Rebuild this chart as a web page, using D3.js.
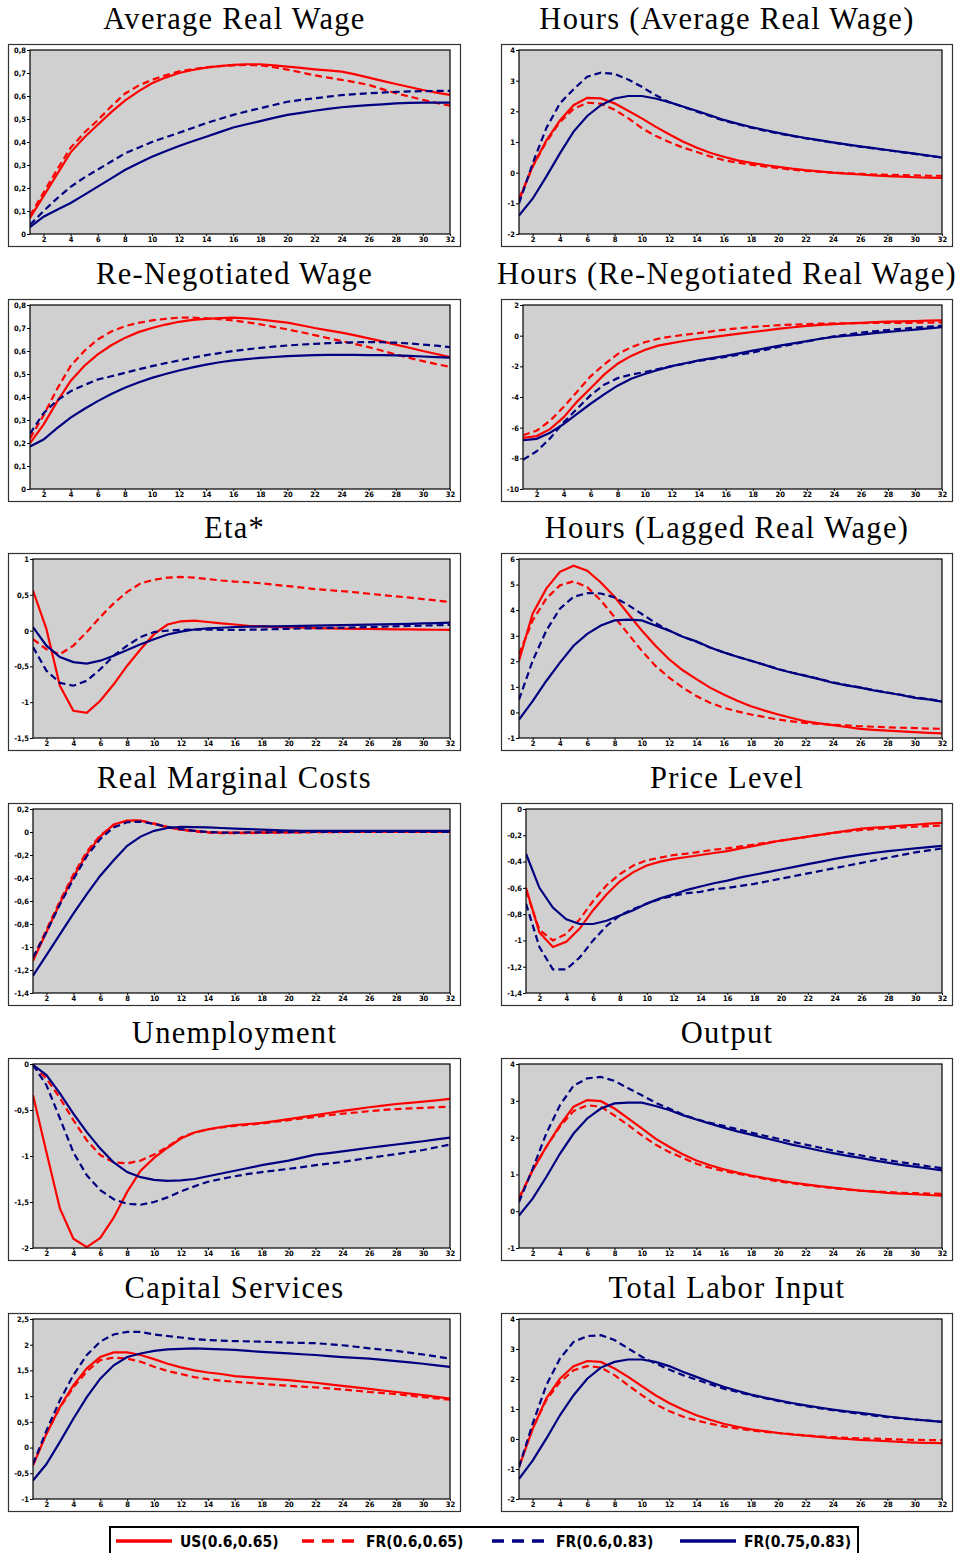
<!DOCTYPE html>
<html>
<head>
<meta charset="utf-8">
<script src="https://cdn.jsdelivr.net/npm/d3@7"></script>
<style>
  body { margin: 0; background: #fff; }
  .tick text { font-family: "DejaVu Sans Condensed", "DejaVu Sans", sans-serif; font-stretch: condensed; font-weight: bold; font-size: 7.5px; fill: #000; }
  .title { font-family: "Liberation Serif", serif; font-size: 30.5px; letter-spacing: 1.3px; fill: #000; }
  .legend text { font-family: "DejaVu Sans Condensed", "DejaVu Sans", sans-serif; font-stretch: condensed; font-weight: bold; font-size: 15.5px; }
</style>
</head>
<body>
<svg id="chart" width="959" height="1553"></svg>
<script>
// ---- data (periods 1..32) ----
var periods = d3.range(1, 33);
var seriesNames = ["US(0.6,0.65)", "FR(0.6,0.65)", "FR(0.6,0.83)", "FR(0.75,0.83)"];

var titles = ["Average Real Wage", "Hours (Average Real Wage)", "Re-Negotiated Wage",
  "Hours (Re-Negotiated Real Wage)", "Eta*", "Hours (Lagged Real Wage)", "Real Marginal Costs",
  "Price Level", "Unemployment", "Output", "Capital Services", "Total Labor Input"];

var yDomains = [[0,0.8],[-2,4],[0,0.8],[-10,2],[-1.5,1],[-1,6],[-1.4,0.2],[-1.4,0],[-2,0],[-1,4],[-1,2.5],[-2,4]];
var yStep = [0.1, 1, 0.1, 2, 0.5, 1, 0.2, 0.2, 0.5, 1, 0.5, 1];
var xTicks = d3.range(2, 33, 2);

// Average Real Wage
var avgWageUS  = [0.07,0.165,0.26,0.355,0.42,0.475,0.53,0.58,0.62,0.655,0.68,0.70,0.713,0.723,0.73,0.735,0.738,0.738,0.733,0.728,0.722,0.716,0.711,0.706,0.694,0.68,0.666,0.652,0.639,0.626,0.615,0.605];
var avgWageFR1 = [0.08,0.18,0.28,0.375,0.44,0.495,0.555,0.61,0.645,0.67,0.69,0.707,0.717,0.725,0.73,0.733,0.735,0.733,0.725,0.715,0.703,0.69,0.68,0.67,0.66,0.648,0.63,0.612,0.598,0.583,0.57,0.558];
var avgWageFR2 = [0.04,0.1,0.155,0.205,0.245,0.28,0.315,0.35,0.375,0.4,0.42,0.44,0.461,0.482,0.5,0.518,0.533,0.547,0.561,0.575,0.583,0.59,0.597,0.604,0.608,0.612,0.615,0.618,0.62,0.621,0.622,0.622];
var avgWageFR3 = [0.03,0.075,0.105,0.135,0.17,0.206,0.242,0.278,0.308,0.336,0.36,0.383,0.403,0.423,0.443,0.463,0.477,0.491,0.505,0.518,0.527,0.536,0.544,0.551,0.556,0.56,0.564,0.568,0.57,0.571,0.571,0.571];

// Hours (Average Real Wage)
var hrsAvgUS  = [-0.9,0.2,1.05,1.7,2.2,2.44,2.42,2.26,2.02,1.77,1.5,1.25,1.02,0.82,0.65,0.52,0.4,0.32,0.25,0.19,0.13,0.08,0.04,0.0,-0.03,-0.06,-0.09,-0.11,-0.13,-0.15,-0.16,-0.17];
var hrsAvgFR1 = [-0.85,0.2,1.0,1.65,2.08,2.28,2.25,2.05,1.78,1.45,1.2,1.0,0.82,0.68,0.53,0.41,0.33,0.26,0.2,0.15,0.1,0.06,0.03,0.0,-0.02,-0.04,-0.06,-0.07,-0.08,-0.09,-0.1,-0.1];
var hrsAvgFR2 = [-1.0,0.3,1.45,2.26,2.72,3.13,3.26,3.22,3.04,2.8,2.53,2.3,2.15,2.0,1.85,1.7,1.58,1.47,1.37,1.28,1.2,1.12,1.05,0.98,0.91,0.85,0.79,0.73,0.67,0.61,0.55,0.5];
var hrsAvgFR3 = [-1.4,-0.85,-0.13,0.63,1.34,1.85,2.2,2.42,2.5,2.5,2.42,2.3,2.16,2.02,1.87,1.72,1.6,1.49,1.39,1.3,1.21,1.13,1.06,0.99,0.92,0.86,0.8,0.74,0.68,0.62,0.56,0.49];

// Re-Negotiated Wage
var renegUS  = [0.2,0.28,0.38,0.47,0.535,0.585,0.625,0.657,0.682,0.7,0.715,0.727,0.735,0.74,0.743,0.745,0.742,0.737,0.73,0.723,0.712,0.7,0.69,0.68,0.668,0.655,0.642,0.628,0.614,0.6,0.587,0.573];
var renegFR1 = [0.22,0.32,0.435,0.535,0.6,0.65,0.685,0.708,0.722,0.733,0.74,0.745,0.745,0.742,0.738,0.733,0.725,0.716,0.705,0.694,0.682,0.669,0.656,0.643,0.63,0.617,0.601,0.585,0.57,0.556,0.543,0.531];
var renegFR2 = [0.24,0.33,0.385,0.425,0.452,0.476,0.49,0.505,0.52,0.534,0.547,0.559,0.571,0.582,0.591,0.6,0.607,0.614,0.619,0.624,0.628,0.631,0.634,0.636,0.638,0.639,0.638,0.636,0.633,0.628,0.623,0.617];
var renegFR3 = [0.185,0.215,0.265,0.31,0.348,0.382,0.413,0.44,0.463,0.483,0.5,0.515,0.529,0.541,0.551,0.559,0.565,0.57,0.574,0.578,0.58,0.582,0.583,0.583,0.583,0.582,0.582,0.581,0.579,0.576,0.573,0.571];

// Hours (Re-Negotiated Real Wage)
var hrsRenegUS  = [-6.66,-6.55,-6.1,-5.33,-4.3,-3.43,-2.54,-1.83,-1.32,-0.94,-0.65,-0.49,-0.33,-0.2,-0.09,0.02,0.13,0.24,0.35,0.46,0.55,0.64,0.7,0.75,0.8,0.84,0.88,0.91,0.93,0.95,0.98,1.0];
var hrsRenegFR1 = [-6.5,-6.2,-5.55,-4.66,-3.66,-2.65,-1.88,-1.2,-0.76,-0.43,-0.2,-0.05,0.06,0.17,0.29,0.4,0.49,0.57,0.63,0.69,0.72,0.75,0.78,0.8,0.81,0.82,0.83,0.84,0.84,0.84,0.85,0.86];
var hrsRenegFR2 = [-8.1,-7.55,-6.7,-5.66,-4.77,-3.88,-3.2,-2.77,-2.54,-2.37,-2.18,-1.99,-1.82,-1.65,-1.51,-1.38,-1.24,-1.1,-0.91,-0.72,-0.55,-0.38,-0.2,-0.05,0.08,0.2,0.29,0.37,0.45,0.52,0.59,0.65];
var hrsRenegFR3 = [-6.82,-6.73,-6.33,-5.77,-5.1,-4.44,-3.83,-3.26,-2.81,-2.5,-2.23,-1.99,-1.8,-1.61,-1.46,-1.32,-1.15,-0.98,-0.81,-0.65,-0.5,-0.36,-0.2,-0.08,0.0,0.07,0.17,0.25,0.32,0.4,0.48,0.55];

// Eta*
var etaUS  = [0.56,0.02,-0.77,-1.12,-1.15,-0.98,-0.75,-0.49,-0.26,-0.05,0.085,0.13,0.14,0.12,0.1,0.085,0.065,0.06,0.05,0.045,0.04,0.035,0.03,0.028,0.025,0.022,0.02,0.018,0.016,0.014,0.012,0.01];
var etaFR1 = [-0.12,-0.26,-0.33,-0.21,-0.02,0.19,0.38,0.54,0.66,0.71,0.74,0.75,0.74,0.72,0.7,0.685,0.675,0.66,0.64,0.62,0.6,0.58,0.565,0.55,0.535,0.515,0.495,0.478,0.46,0.44,0.42,0.4];
var etaFR2 = [-0.23,-0.56,-0.73,-0.77,-0.7,-0.54,-0.35,-0.21,-0.09,-0.02,0.0,0.01,0.015,0.015,0.01,0.01,0.012,0.015,0.02,0.025,0.03,0.033,0.037,0.04,0.045,0.05,0.055,0.06,0.065,0.07,0.075,0.08];
var etaFR3 = [0.05,-0.21,-0.37,-0.44,-0.46,-0.42,-0.35,-0.27,-0.19,-0.12,-0.055,-0.015,0.015,0.03,0.04,0.05,0.055,0.058,0.06,0.063,0.066,0.07,0.073,0.076,0.08,0.083,0.087,0.09,0.095,0.1,0.105,0.11];

// Hours (Lagged Real Wage)
var hrsLagUS  = [2.02,3.86,4.84,5.5,5.74,5.54,5.08,4.52,3.86,3.2,2.61,2.08,1.65,1.3,0.97,0.7,0.46,0.24,0.07,-0.08,-0.22,-0.35,-0.43,-0.5,-0.57,-0.64,-0.68,-0.71,-0.74,-0.77,-0.8,-0.82];
var hrsLagFR1 = [2.28,3.6,4.45,4.97,5.13,4.9,4.38,3.73,3.07,2.41,1.82,1.36,0.97,0.64,0.38,0.18,0.04,-0.08,-0.18,-0.28,-0.35,-0.41,-0.45,-0.48,-0.51,-0.54,-0.56,-0.58,-0.6,-0.61,-0.63,-0.64];
var hrsLagFR2 = [0.5,2.02,3.2,4.06,4.52,4.67,4.65,4.5,4.2,3.85,3.5,3.2,2.96,2.76,2.54,2.35,2.18,2.02,1.86,1.7,1.56,1.44,1.31,1.18,1.07,0.98,0.87,0.78,0.69,0.59,0.52,0.44];
var hrsLagFR3 = [-0.28,0.44,1.23,1.95,2.61,3.07,3.4,3.6,3.63,3.6,3.4,3.2,2.96,2.78,2.54,2.35,2.18,2.02,1.86,1.69,1.55,1.43,1.3,1.16,1.06,0.97,0.86,0.77,0.68,0.57,0.51,0.42];

// Real Marginal Costs
var rmcUS  = [-1.12,-0.87,-0.62,-0.39,-0.19,-0.04,0.065,0.1,0.1,0.07,0.04,0.02,0.01,0.0,-0.005,-0.005,-0.005,-0.004,-0.003,-0.002,-0.001,0,0,0,0,0,0,0,0,0,0,0];
var rmcFR1 = [-1.1,-0.85,-0.6,-0.37,-0.17,-0.03,0.06,0.1,0.1,0.075,0.045,0.02,0.005,-0.005,-0.01,-0.01,-0.01,-0.008,-0.006,-0.004,-0.003,-0.002,-0.001,0,0,0,0,0,0,0,0,0];
var rmcFR2 = [-1.09,-0.87,-0.63,-0.41,-0.21,-0.06,0.04,0.085,0.09,0.07,0.045,0.025,0.01,0.0,-0.005,-0.005,-0.004,-0.003,-0.002,-0.001,0,0,0,0,0,0,0,0,0,0,0,0];
var rmcFR3 = [-1.25,-1.07,-0.89,-0.71,-0.54,-0.38,-0.245,-0.12,-0.04,0.01,0.035,0.045,0.043,0.04,0.035,0.03,0.025,0.02,0.016,0.013,0.011,0.01,0.01,0.01,0.01,0.01,0.01,0.01,0.01,0.01,0.01,0.01];

// Price Level
var priceUS  = [-0.6,-0.94,-1.05,-1.01,-0.91,-0.77,-0.65,-0.55,-0.48,-0.43,-0.4,-0.38,-0.365,-0.35,-0.335,-0.32,-0.3,-0.28,-0.26,-0.24,-0.225,-0.21,-0.195,-0.18,-0.165,-0.15,-0.142,-0.135,-0.127,-0.12,-0.112,-0.105];
var priceFR1 = [-0.62,-0.92,-1.0,-0.95,-0.84,-0.7,-0.58,-0.495,-0.43,-0.39,-0.37,-0.35,-0.34,-0.325,-0.31,-0.3,-0.285,-0.27,-0.255,-0.24,-0.225,-0.21,-0.195,-0.18,-0.17,-0.16,-0.152,-0.145,-0.14,-0.135,-0.13,-0.125];
var priceFR2 = [-0.72,-1.05,-1.22,-1.22,-1.13,-1.0,-0.89,-0.81,-0.76,-0.72,-0.685,-0.66,-0.64,-0.63,-0.61,-0.6,-0.585,-0.57,-0.55,-0.53,-0.51,-0.49,-0.47,-0.45,-0.43,-0.41,-0.39,-0.37,-0.35,-0.33,-0.315,-0.3];
var priceFR3 = [-0.34,-0.6,-0.75,-0.84,-0.875,-0.875,-0.85,-0.81,-0.77,-0.72,-0.68,-0.65,-0.615,-0.59,-0.565,-0.545,-0.52,-0.5,-0.48,-0.46,-0.44,-0.42,-0.4,-0.38,-0.362,-0.347,-0.333,-0.32,-0.31,-0.3,-0.29,-0.28];

// Unemployment
var unempUS  = [-0.34,-0.96,-1.57,-1.9,-1.99,-1.89,-1.67,-1.39,-1.16,-1.02,-0.91,-0.81,-0.745,-0.71,-0.685,-0.665,-0.652,-0.64,-0.62,-0.6,-0.578,-0.556,-0.533,-0.51,-0.49,-0.47,-0.452,-0.435,-0.422,-0.41,-0.395,-0.38];
var unempFR1 = [-0.01,-0.16,-0.37,-0.61,-0.83,-0.99,-1.07,-1.08,-1.05,-0.985,-0.9,-0.8,-0.745,-0.71,-0.69,-0.673,-0.66,-0.647,-0.628,-0.61,-0.592,-0.575,-0.557,-0.54,-0.527,-0.513,-0.5,-0.49,-0.483,-0.476,-0.47,-0.465];
var unempFR2 = [-0.01,-0.23,-0.59,-0.96,-1.21,-1.37,-1.47,-1.52,-1.53,-1.5,-1.45,-1.385,-1.33,-1.28,-1.25,-1.22,-1.195,-1.175,-1.157,-1.14,-1.12,-1.1,-1.082,-1.065,-1.042,-1.02,-1.0,-0.98,-0.957,-0.935,-0.905,-0.875];
var unempFR3 = [-0.01,-0.12,-0.32,-0.54,-0.74,-0.92,-1.07,-1.175,-1.23,-1.26,-1.27,-1.265,-1.25,-1.22,-1.19,-1.16,-1.13,-1.1,-1.075,-1.05,-1.018,-0.985,-0.968,-0.95,-0.93,-0.91,-0.893,-0.875,-0.858,-0.84,-0.82,-0.8];

// Output
var outputUS  = [0.34,1.11,1.75,2.34,2.84,3.02,2.99,2.79,2.52,2.25,1.97,1.75,1.55,1.38,1.25,1.14,1.05,0.97,0.9,0.84,0.78,0.73,0.68,0.64,0.6,0.56,0.53,0.5,0.48,0.46,0.44,0.42];
var outputFR1 = [0.35,1.12,1.75,2.3,2.72,2.88,2.84,2.6,2.34,2.06,1.81,1.61,1.45,1.29,1.18,1.09,1.02,0.95,0.88,0.81,0.76,0.71,0.67,0.63,0.59,0.56,0.54,0.52,0.5,0.49,0.48,0.47];
var outputFR2 = [0.25,1.15,2.11,2.88,3.41,3.61,3.65,3.54,3.34,3.15,2.95,2.79,2.63,2.5,2.4,2.32,2.23,2.14,2.05,1.97,1.89,1.81,1.73,1.65,1.58,1.52,1.45,1.39,1.33,1.28,1.22,1.17];
var outputFR3 = [-0.12,0.34,0.93,1.56,2.11,2.52,2.79,2.93,2.95,2.95,2.86,2.75,2.61,2.49,2.38,2.27,2.17,2.08,1.99,1.9,1.81,1.73,1.65,1.58,1.51,1.45,1.38,1.32,1.26,1.21,1.16,1.11];

// Capital Services
var capitalUS  = [-0.35,0.27,0.79,1.21,1.54,1.76,1.85,1.85,1.8,1.72,1.63,1.56,1.5,1.46,1.43,1.39,1.37,1.35,1.33,1.31,1.285,1.26,1.23,1.2,1.17,1.14,1.11,1.08,1.05,1.02,0.985,0.95];
var capitalFR1 = [-0.33,0.27,0.78,1.17,1.48,1.7,1.75,1.73,1.67,1.57,1.49,1.43,1.37,1.33,1.3,1.28,1.26,1.24,1.22,1.2,1.185,1.17,1.15,1.13,1.105,1.08,1.06,1.04,1.01,0.98,0.955,0.93];
var capitalFR2 = [-0.32,0.33,0.92,1.41,1.8,2.06,2.2,2.25,2.25,2.2,2.17,2.14,2.11,2.09,2.08,2.07,2.065,2.06,2.05,2.04,2.035,2.03,2.01,1.99,1.96,1.93,1.905,1.88,1.845,1.81,1.77,1.73];
var capitalFR3 = [-0.64,-0.32,0.11,0.56,0.98,1.34,1.6,1.76,1.83,1.88,1.91,1.92,1.93,1.92,1.91,1.9,1.88,1.86,1.845,1.83,1.815,1.8,1.78,1.76,1.745,1.73,1.705,1.68,1.655,1.63,1.6,1.57];

// Total Labor Input
var laborUS  = [-0.94,0.34,1.35,2.01,2.43,2.6,2.57,2.35,2.07,1.76,1.46,1.2,0.98,0.79,0.64,0.51,0.41,0.32,0.26,0.2,0.15,0.11,0.07,0.03,0.0,-0.03,-0.05,-0.07,-0.1,-0.12,-0.13,-0.14];
var laborFR1 = [-0.9,0.35,1.3,1.9,2.29,2.43,2.38,2.13,1.79,1.46,1.16,0.93,0.75,0.62,0.51,0.42,0.35,0.29,0.24,0.2,0.16,0.12,0.09,0.06,0.04,0.02,0.01,0.0,-0.02,-0.03,-0.035,-0.04];
var laborFR2 = [-0.94,0.51,1.79,2.68,3.24,3.43,3.46,3.3,3.02,2.74,2.52,2.32,2.13,1.98,1.83,1.68,1.57,1.46,1.36,1.27,1.18,1.1,1.03,0.96,0.9,0.84,0.78,0.73,0.69,0.65,0.61,0.57];
var laborFR3 = [-1.33,-0.72,0.01,0.79,1.46,2.01,2.38,2.57,2.65,2.65,2.57,2.43,2.24,2.07,1.9,1.74,1.61,1.48,1.38,1.29,1.2,1.12,1.05,0.98,0.92,0.87,0.81,0.75,0.7,0.65,0.61,0.57];

var panelSeries = [
  [avgWageUS, avgWageFR1, avgWageFR2, avgWageFR3],
  [hrsAvgUS, hrsAvgFR1, hrsAvgFR2, hrsAvgFR3],
  [renegUS, renegFR1, renegFR2, renegFR3],
  [hrsRenegUS, hrsRenegFR1, hrsRenegFR2, hrsRenegFR3],
  [etaUS, etaFR1, etaFR2, etaFR3],
  [hrsLagUS, hrsLagFR1, hrsLagFR2, hrsLagFR3],
  [rmcUS, rmcFR1, rmcFR2, rmcFR3],
  [priceUS, priceFR1, priceFR2, priceFR3],
  [unempUS, unempFR1, unempFR2, unempFR3],
  [outputUS, outputFR1, outputFR2, outputFR3],
  [capitalUS, capitalFR1, capitalFR2, capitalFR3],
  [laborUS, laborFR1, laborFR2, laborFR3]
];

// ---- styles ----
var colors = ["#ff0000", "#ff0000", "#000080", "#000080"];
var dashes = [null, "7,4", "7,4", null];

// ---- layout ----
var colLeft = [8, 501], boxW = [453, 452];
var rowTop = [44, 299, 553, 803, 1058, 1313];
var rowH = [203, 203, 198, 203, 203, 199];

var svg = d3.select("#chart");
var fmt = function(v){ return String(+v.toFixed(2)).replace(".", ","); };

panelSeries.forEach(function(series, p){
  var col = p % 2, row = Math.floor(p / 2);
  var bx = colLeft[col], by = rowTop[row], bw = boxW[col], bh = rowH[row];
  var g = svg.append("g");

  g.append("rect").attr("x", bx + 0.5).attr("y", by + 0.5)
    .attr("width", bw - 1).attr("height", bh - 1)
    .attr("fill", "#fff").attr("stroke", "#333").attr("stroke-width", 1.2);

  g.append("text").attr("class", "title")
    .attr("x", bx + bw / 2).attr("y", by - 15)
    .attr("text-anchor", "middle").text(titles[p]);

  var dom = yDomains[p];
  var yTicks = d3.range(dom[0], dom[1] + yStep[p] / 2, yStep[p]);
  var top = by + 6, bottom = by + bh - 13, right = bx + bw - 11;

  // measure widest y label to place the plot's left edge
  var probe = g.append("g").attr("class", "tick");
  var maxW = 0;
  yTicks.forEach(function(v){
    var t = probe.append("text").text(fmt(v));
    maxW = Math.max(maxW, t.node().getComputedTextLength());
  });
  probe.remove();
  var left = Math.round(bx + 7 + maxW + 3);

  var x = d3.scaleLinear().domain([1, 32]).range([left, right]);
  var y = d3.scaleLinear().domain(dom).range([bottom, top]);

  g.append("rect").attr("x", left).attr("y", top)
    .attr("width", right - left).attr("height", bottom - top)
    .attr("fill", "#d0d0d0");

  var clipId = "clip" + p;
  g.append("clipPath").attr("id", clipId).append("rect")
    .attr("x", left).attr("y", top).attr("width", right - left).attr("height", bottom - top);

  var line = d3.line().x(function(d, i){ return x(periods[i]); }).y(function(d){ return y(d); });
  var lines = g.append("g").attr("clip-path", "url(#" + clipId + ")");
  series.forEach(function(vals, s){
    lines.append("path").datum(vals)
      .attr("d", line)
      .attr("fill", "none")
      .attr("stroke", colors[s])
      .attr("stroke-width", 2.2)
      .attr("stroke-dasharray", dashes[s]);
  });

  g.append("rect").attr("x", left).attr("y", top)
    .attr("width", right - left).attr("height", bottom - top)
    .attr("fill", "none").attr("stroke", "#000").attr("stroke-width", 1.2);

  var yAxis = g.append("g").attr("transform", "translate(" + left + ",0)")
    .call(d3.axisLeft(y).tickValues(yTicks).tickFormat(fmt).tickSize(3).tickSizeOuter(0).tickPadding(1));
  var xAxis = g.append("g").attr("transform", "translate(0," + bottom + ")")
    .call(d3.axisBottom(x).tickValues(xTicks).tickFormat(d3.format("d")).tickSize(2).tickSizeOuter(0).tickPadding(1));
  [yAxis, xAxis].forEach(function(a){
    a.select(".domain").remove();
    a.attr("font-family", null).attr("font-size", null);
    a.selectAll(".tick line").attr("stroke", "#000");
  });
});

// ---- legend ----
var lg = svg.append("g").attr("class", "legend");
lg.append("rect").attr("x", 110).attr("y", 1527).attr("width", 748).attr("height", 40)
  .attr("fill", "#fff").attr("stroke", "#000").attr("stroke-width", 2);
var legendX = [116, 302, 492, 680];
seriesNames.forEach(function(name, s){
  var lx = legendX[s];
  lg.append("line").attr("x1", lx).attr("x2", lx + 56).attr("y1", 1541).attr("y2", 1541)
    .attr("stroke", colors[s]).attr("stroke-width", 3.5)
    .attr("stroke-dasharray", dashes[s] ? "12,8" : null);
  lg.append("text").attr("x", lx + 64).attr("y", 1546.5).text(name);
});
</script>
</body>
</html>
